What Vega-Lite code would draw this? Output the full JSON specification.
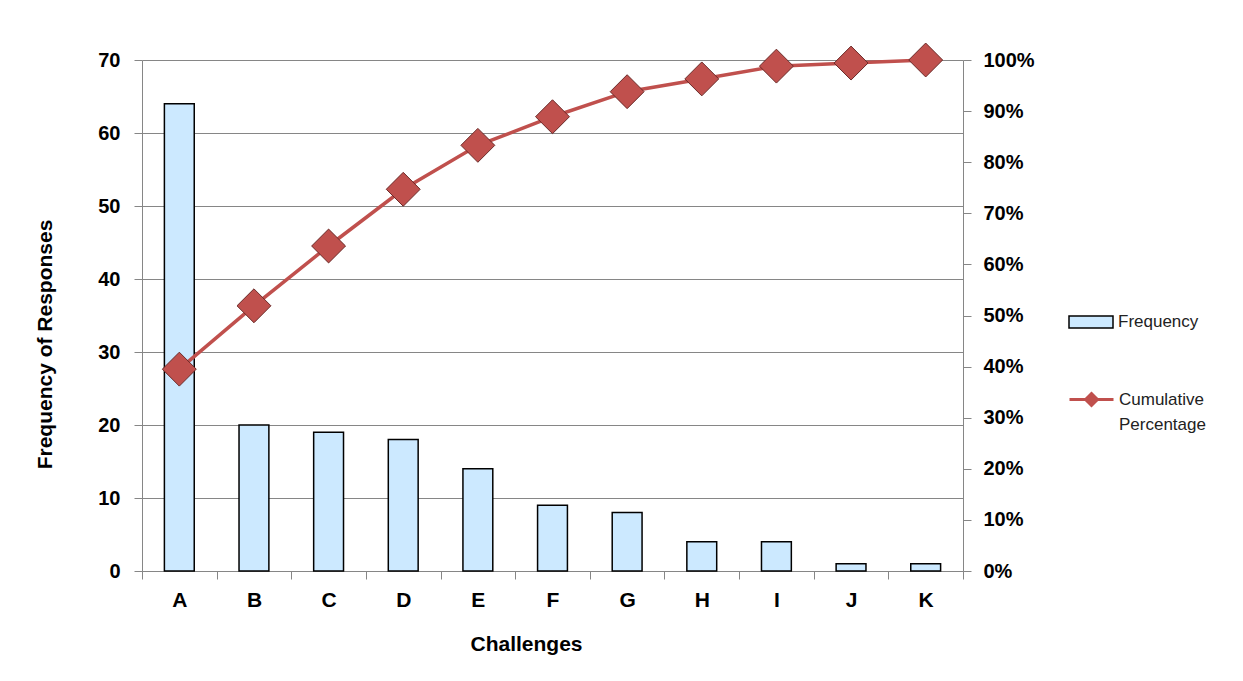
{
  "$schema": "https://vega.github.io/schema/vega-lite/v6.json",
  "width": 821,
  "height": 511,
  "autosize": {"type": "none"},
  "padding": {"left": 142, "top": 60, "right": 280, "bottom": 110},
  "background": "white",
  "config": {
    "view": {"stroke": null},
    "font": "Liberation Sans",
    "axis": {
      "labelFont": "Liberation Sans",
      "titleFont": "Liberation Sans",
      "labelColor": "black",
      "titleColor": "black",
      "domainColor": "#868686",
      "tickColor": "#868686",
      "gridColor": "#868686",
      "tickSize": 8,
      "labelFontWeight": "bold",
      "titleFontWeight": "bold"
    }
  },
  "data": {
    "values": [
      {"challenge": "A", "frequency": 64, "cumulative": 0.395},
      {"challenge": "B", "frequency": 20, "cumulative": 0.519},
      {"challenge": "C", "frequency": 19, "cumulative": 0.636},
      {"challenge": "D", "frequency": 18, "cumulative": 0.747},
      {"challenge": "E", "frequency": 14, "cumulative": 0.833},
      {"challenge": "F", "frequency": 9, "cumulative": 0.889},
      {"challenge": "G", "frequency": 8, "cumulative": 0.938},
      {"challenge": "H", "frequency": 4, "cumulative": 0.963},
      {"challenge": "I", "frequency": 4, "cumulative": 0.988},
      {"challenge": "J", "frequency": 1, "cumulative": 0.994},
      {"challenge": "K", "frequency": 1, "cumulative": 1.0}
    ]
  },
  "encoding": {
    "x": {
      "field": "challenge",
      "type": "nominal",
      "sort": null,
      "scale": {"paddingInner": 0, "paddingOuter": 0},
      "axis": {
        "title": "Challenges",
        "labelAngle": 0,
        "labelFontSize": 21,
        "labelPadding": 10,
        "tickBand": "extent",
        "grid": false,
        "titleFontSize": 21,
        "titleX": 384,
        "titleY": 73,
        "titleBaseline": "middle",
        "titleAlign": "center"
      }
    }
  },
  "layer": [
    {
      "mark": {"type": "bar", "width": {"band": 0.4}, "stroke": "black", "strokeWidth": 1.5},
      "encoding": {
        "y": {
          "field": "frequency",
          "type": "quantitative",
          "scale": {"domain": [0, 70]},
          "axis": {
            "orient": "left",
            "values": [0, 10, 20, 30, 40, 50, 60, 70],
            "grid": true,
            "gridWidth": 1,
            "labelFontSize": 20,
            "labelPadding": 14,
            "title": "Frequency of Responses",
            "titleFontSize": 21,
            "titleAngle": -90,
            "titleX": -97,
            "titleY": 284,
            "titleAlign": "center",
            "titleBaseline": "middle"
          }
        },
        "fill": {
          "datum": "Frequency",
          "type": "nominal",
          "scale": {"range": ["#CCE9FF"]},
          "legend": {
            "orient": "none",
            "legendX": 926,
            "legendY": 239,
            "title": null,
            "padding": 0,
            "symbolType": "M-1,-0.27H1V0.27H-1Z",
            "symbolSize": 1936,
            "symbolStrokeColor": "black",
            "symbolStrokeWidth": 1.5,
            "labelFont": "Liberation Sans",
            "labelFontSize": 17,
            "labelColor": "#222222",
            "labelOffset": 4
          }
        }
      }
    },
    {
      "encoding": {
        "y": {
          "field": "cumulative",
          "type": "quantitative",
          "scale": {"domain": [0, 1]},
          "axis": {
            "orient": "right",
            "values": [0, 0.1, 0.2, 0.3, 0.4, 0.5, 0.6, 0.7, 0.8, 0.9, 1],
            "format": ".0%",
            "grid": false,
            "labelFontSize": 20,
            "labelPadding": 12,
            "title": null
          }
        }
      },
      "layer": [
        {
          "mark": {"type": "line", "strokeWidth": 3.5},
          "encoding": {
            "stroke": {
              "datum": "Cumulative Percentage",
              "type": "nominal",
              "scale": {"range": ["#C0504D"]},
              "legend": {
                "orient": "none",
                "legendX": 926,
                "legendY": 316,
                "title": null,
                "padding": 0,
                "symbolType": "M-1,0H1M-0.27,0L0,-0.27L0.27,0L0,0.27Z",
                "symbolSize": 1936,
                "symbolStrokeWidth": 3,
                "labelFont": "Liberation Sans",
                "labelFontSize": 17,
                "labelColor": "#222222",
                "labelOffset": 4,
                "labelExpr": "['Cumulative', 'Percentage']",
                "labelBaseline": "middle",
                "encode": {
                  "symbols": {"update": {"fill": {"value": "#C0504D"}}},
                  "labels": {"update": {"lineHeight": {"value": 25}}}
                }
              }
            }
          }
        },
        {
          "mark": {
            "type": "point",
            "shape": "diamond",
            "size": 1150,
            "filled": true,
            "fill": "#C0504D",
            "stroke": "#6B2A28",
            "strokeWidth": 1,
            "opacity": 1
          }
        }
      ]
    }
  ],
  "resolve": {"scale": {"y": "independent"}}
}
